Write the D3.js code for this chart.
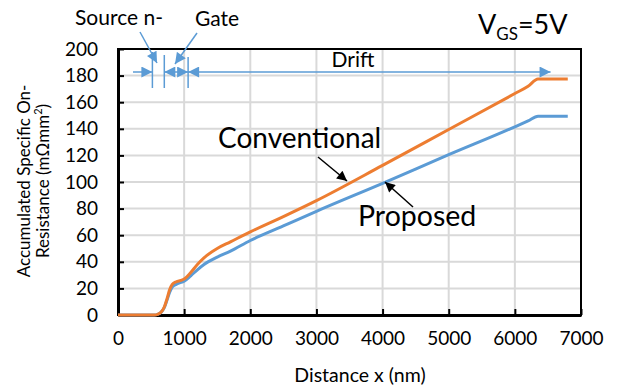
<!DOCTYPE html>
<html>
<head>
<meta charset="utf-8">
<script src="https://cdn.jsdelivr.net/npm/d3@7"></script>
<style>
  html, body { margin: 0; padding: 0; background: #fff; }
  svg { display: block; font-family: Lato, "Open Sans", sans-serif; }
</style>
</head>
<body>
<svg id="chart" width="617" height="387"></svg>
<script>
// Accumulated specific on-resistance along the device (x in nm, value in mΩ·mm²)
const conventionalX = [0, 550, 600, 650, 700, 740, 780, 820, 880, 950, 1000, 1100, 1200, 1300, 1500, 1700, 2000, 2500, 3000, 4000, 5000, 6000, 6200, 6350, 6800];
const conventionalY = [0, 0, 0.5, 2, 6, 12, 19, 23, 25, 26, 27, 32, 38, 43, 50, 55, 62.5, 74, 86, 112.5, 139.5, 166.5, 172, 177.5, 177.5];
const proposedX = [0, 550, 600, 650, 700, 740, 780, 820, 880, 950, 1000, 1100, 1200, 1300, 1500, 1700, 2000, 2500, 3000, 4000, 5000, 6000, 6200, 6350, 6800];
const proposedY = [0, 0, 0.5, 2, 5.5, 11, 17, 21, 23, 24.5, 25.5, 29.5, 34, 38, 43.5, 48, 56, 67, 78, 99, 120.5, 141.5, 146, 149.5, 149.5];

const xTicks = [0, 1000, 2000, 3000, 4000, 5000, 6000, 7000];
const yTicks = [0, 20, 40, 60, 80, 100, 120, 140, 160, 180, 200];

// Region boundaries along x (nm): source n-, gate, drift end
const regionEdges = [520, 700, 1060, 6540];

const svg = d3.select("#chart");
const margin = { left: 118, right: 36, top: 49, bottom: 72 };
const W = 617, H = 387;
const x = d3.scaleLinear().domain([0, 7000]).range([margin.left, W - margin.right]);
const y = d3.scaleLinear().domain([0, 200]).range([H - margin.bottom, margin.top]);

const orange = "#ED7D31", blue = "#5B9BD5", grid = "#d9d9d9";

// Gridlines
svg.append("g").selectAll("line").data(yTicks.slice(1)).join("line")
  .attr("x1", x(0)).attr("x2", x(7000))
  .attr("y1", d => y(d)).attr("y2", d => y(d))
  .attr("stroke", grid).attr("stroke-width", 2);
svg.append("g").selectAll("line").data(xTicks.slice(1)).join("line")
  .attr("x1", d => x(d)).attr("x2", d => x(d))
  .attr("y1", y(0)).attr("y2", y(200))
  .attr("stroke", grid).attr("stroke-width", 2);

// Frame
svg.append("rect")
  .attr("x", x(0)).attr("y", y(200))
  .attr("width", x(7000) - x(0)).attr("height", y(0) - y(200))
  .attr("fill", "none").attr("stroke", "#000").attr("stroke-width", 2);

// Axes with inward ticks
const xAxis = svg.append("g").attr("transform", `translate(0,${y(0)})`)
  .call(d3.axisBottom(x).tickValues(xTicks).tickSizeInner(-6).tickSizeOuter(0).tickPadding(17).tickFormat(d3.format("d")));
const yAxis = svg.append("g").attr("transform", `translate(${x(0)},0)`)
  .call(d3.axisLeft(y).tickValues(yTicks).tickSizeInner(-6).tickSizeOuter(0).tickPadding(20).tickFormat(d3.format("d")));
[xAxis, yAxis].forEach(a => {
  a.select(".domain").attr("stroke", "#000").attr("stroke-width", 3);
  a.selectAll(".tick line").attr("stroke", "#000").attr("stroke-width", 2);
  a.selectAll(".tick text").attr("fill", "#000").style("font-size", "19px").style("font-family", "Lato, 'Open Sans', sans-serif");
});

// Curves
const line = d3.line().x(d => x(d[0])).y(d => y(d[1])).curve(d3.curveMonotoneX);
svg.append("path").datum(d3.zip(proposedX, proposedY)).attr("d", line)
  .attr("fill", "none").attr("stroke", blue).attr("stroke-width", 3);
svg.append("path").datum(d3.zip(conventionalX, conventionalY)).attr("d", line)
  .attr("fill", "none").attr("stroke", orange).attr("stroke-width", 3);

// Arrowhead markers
const defs = svg.append("defs");
function marker(id, color, w, h) {
  defs.append("marker").attr("id", id)
    .attr("viewBox", "0 0 10 10").attr("refX", 10).attr("refY", 5)
    .attr("markerWidth", w).attr("markerHeight", h)
    .attr("markerUnits", "userSpaceOnUse")
    .attr("orient", "auto-start-reverse")
    .append("path").attr("d", "M0,0 L10,5 L0,10 Z").attr("fill", color);
}
marker("ab", blue, 12, 11);
marker("ak", "#000", 12, 10);

// Region dimension arrows
const ay = 72;
const ann = svg.append("g").attr("stroke", blue).attr("stroke-width", 1.5);
[[regionEdges[0], 52, 88], [regionEdges[1], 55, 88], [regionEdges[2], 57, 88]].forEach(([v, a, b]) => {
  ann.append("line").attr("x1", x(v)).attr("x2", x(v)).attr("y1", a).attr("y2", b);
});
ann.append("line").attr("x1", 133).attr("x2", x(regionEdges[0])).attr("y1", ay).attr("y2", ay).attr("marker-end", "url(#ab)");
ann.append("line").attr("x1", x(regionEdges[1])).attr("x2", x(regionEdges[2])).attr("y1", ay).attr("y2", ay)
  .attr("marker-start", "url(#ab)").attr("marker-end", "url(#ab)");
ann.append("line").attr("x1", x(regionEdges[2])).attr("x2", x(regionEdges[3])).attr("y1", ay).attr("y2", ay)
  .attr("marker-start", "url(#ab)").attr("marker-end", "url(#ab)");
// Callouts to the narrow regions
ann.append("line").attr("x1", 140).attr("y1", 32).attr("x2", 157).attr("y2", 63).attr("marker-end", "url(#ab)");
ann.append("line").attr("x1", 197).attr("y1", 33).attr("x2", 175).attr("y2", 64).attr("marker-end", "url(#ab)");

const txt = (t, px, py, size, anchor) => svg.append("text").attr("x", px).attr("y", py)
  .attr("font-size", size).attr("text-anchor", anchor || "start").attr("fill", "#000").text(t);

txt("Source n-", 75, 25, 21);
txt("Gate", 195, 26, 21);
txt("Drift", 353, 67, 21, "middle");

// V_GS label
const vg = svg.append("text").attr("x", 478).attr("y", 34).attr("font-size", 27).attr("fill", "#000");
vg.append("tspan").text("V");
vg.append("tspan").attr("font-size", 17).attr("dy", 6).text("GS");
vg.append("tspan").attr("dy", -6).text("=5V");

// Series labels with pointer arrows
txt("Conventional", 218, 148, 28);
txt("Proposed", 358, 226, 28.5);
svg.append("line").attr("x1", 318).attr("y1", 157).attr("x2", 347).attr("y2", 181)
  .attr("stroke", "#000").attr("stroke-width", 1.5).attr("marker-end", "url(#ak)");
svg.append("line").attr("x1", 413).attr("y1", 207).attr("x2", 385).attr("y2", 182)
  .attr("stroke", "#000").attr("stroke-width", 1.5).attr("marker-end", "url(#ak)");

// Axis titles
txt("Distance x (nm)", 360, 382, 19.5, "middle");
const yt = svg.append("text").attr("transform", "translate(30,181) rotate(-90)")
  .attr("text-anchor", "middle").attr("font-size", 17).attr("fill", "#000");
yt.append("tspan").attr("x", 0).attr("dy", 0).text("Accumulated Specific On-");
const l2 = yt.append("tspan").attr("x", 0).attr("dy", 19);
l2.append("tspan").text("Resistance (mΩmm");
l2.append("tspan").attr("font-size", 11).attr("dy", -7).text("2");
l2.append("tspan").attr("dy", 7).text(")");
</script>
</body>
</html>
